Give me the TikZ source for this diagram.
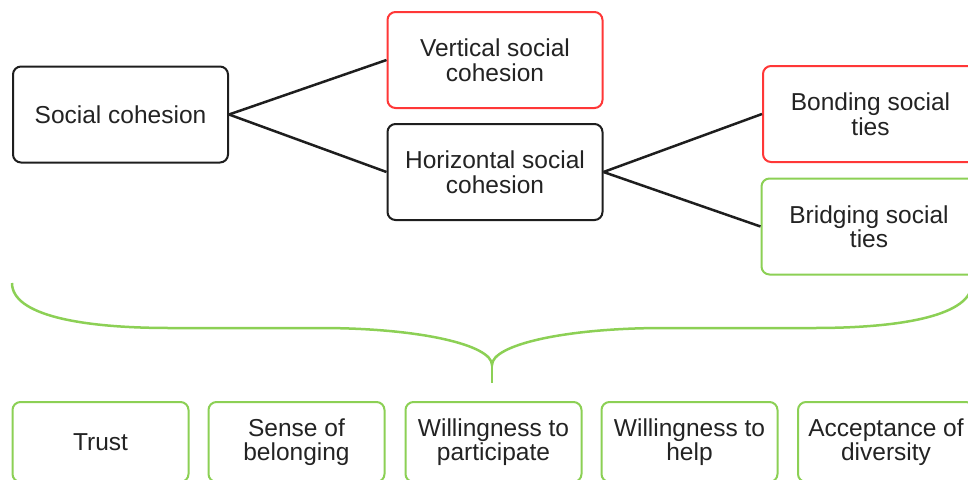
\documentclass[tikz,border=0pt]{standalone}
\usepackage{fontspec}
\setmainfont{Liberation Sans}
\definecolor{boxred}{RGB}{255,55,55}
\definecolor{boxgreen}{RGB}{140,208,85}
\definecolor{linegray}{RGB}{30,30,30}
\definecolor{txt}{RGB}{35,35,35}
\begin{document}
\begin{tikzpicture}[x=1pt,y=-1pt,
  box/.style={draw=linegray, line width=2pt, rounded corners=8pt, fill=white,
    minimum width=215pt, minimum height=96pt, align=center, text=txt,
    font=\fontsize{24.5}{24.5}\selectfont, inner sep=0pt},
  redbox/.style={box, draw=boxred},
  greenbox/.style={box, draw=boxgreen},
  smallbox/.style={greenbox, minimum width=176pt, minimum height=80pt},
  link/.style={draw=linegray, line width=2.5pt},
  bracestyle/.style={draw=boxgreen, line width=2.5pt}
]
\useasboundingbox (0,0) rectangle (968,479);
\clip (0,0) rectangle (968,479);

\node[box] (sc) at (120.5,114.5) {Social cohesion};
\node[redbox] (vsc) at (495,60) {Vertical social\\cohesion};
\node[box] (hsc) at (495,172) {Horizontal social\\cohesion};
\node[redbox] (bond) at (870.5,114) {Bonding social\\ties};
\node[greenbox] (bridge) at (869,226.5) {Bridging social\\ties};

\draw[link] (sc.east) -- (vsc.west);
\draw[link] (sc.east) -- (hsc.west);
\draw[link] (hsc.east) -- (bond.west);
\draw[link] (hsc.east) -- (bridge.west);

\coordinate (tip) at (492,365);
\coordinate (stem) at (492,383);
\draw[bracestyle] (12,283) .. controls (12,315) and (80,328) .. (170,328)
  -- (320,328) .. controls (420,328) and (492,345) .. (tip)
  .. controls (492,345) and (564,328) .. (664,328)
  -- (814,328) .. controls (904,328) and (972,315) .. (972,283);
\draw[bracestyle] (tip) -- (stem);

\node[smallbox] (trust) at (100.5,442) {Trust};
\node[smallbox] (belong) at (296.5,442) {Sense of\\belonging};
\node[smallbox] (partic) at (493.5,442) {Willingness to\\participate};
\node[smallbox] (help) at (689.5,442) {Willingness to\\help};
\node[smallbox] (accept) at (886,442) {Acceptance of\\diversity};
\end{tikzpicture}
\end{document}
